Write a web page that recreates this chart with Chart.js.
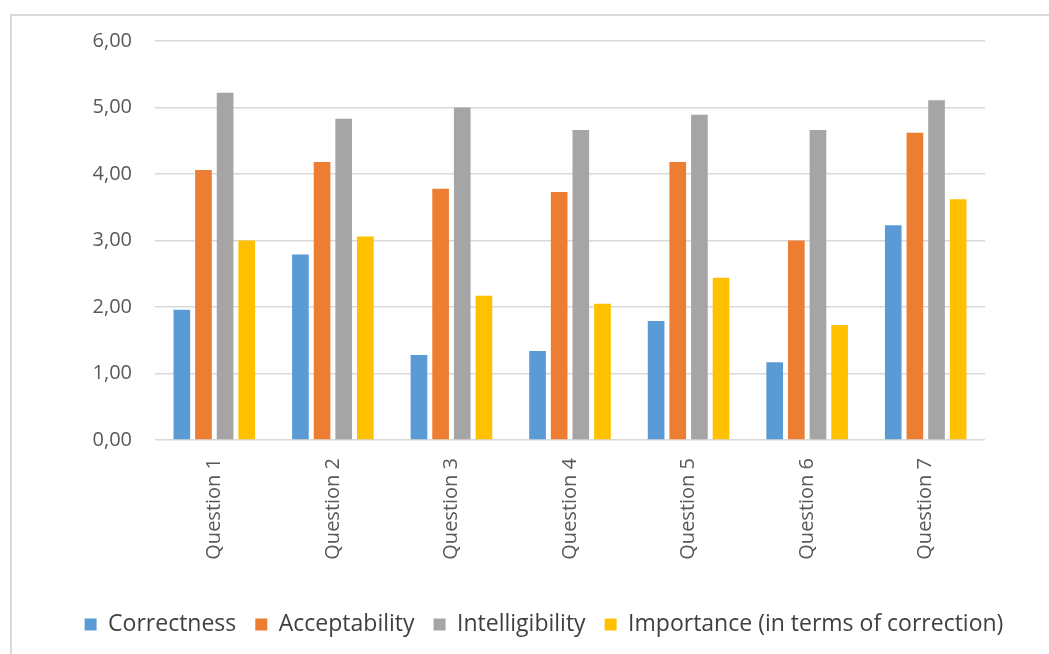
<!DOCTYPE html>
<html>
<head>
<meta charset="utf-8">
<script src="https://cdn.jsdelivr.net/npm/chart.js@4/dist/chart.umd.min.js"></script>
<style>
  html, body { margin: 0; padding: 0; background: #ffffff; }
  #wrap { width: 1049px; height: 654px; }
</style>
</head>
<body>
<div id="wrap"><canvas id="c" width="1049" height="654"></canvas></div>
<script>
const categories = ['Question 1', 'Question 2', 'Question 3', 'Question 4', 'Question 5', 'Question 6', 'Question 7'];
const correctness = [1.96, 2.79, 1.28, 1.34, 1.79, 1.17, 3.23];
const acceptability = [4.06, 4.18, 3.78, 3.73, 4.18, 3.00, 4.62];
const intelligibility = [5.22, 4.83, 5.00, 4.66, 4.89, 4.66, 5.11];
const importance = [3.00, 3.06, 2.17, 2.05, 2.44, 1.73, 3.62];
const yTicks = [0, 1, 2, 3, 4, 5, 6];

const FONT = '"Open Sans", "DejaVu Sans", sans-serif';

// light frame along the top and left edges
const framePlugin = {
  id: 'frame',
  beforeDraw(chart) {
    const ctx = chart.ctx;
    ctx.save();
    ctx.fillStyle = '#ffffff';
    ctx.fillRect(0, 0, chart.width, chart.height);
    ctx.strokeStyle = '#d9d9d9';
    ctx.lineWidth = 2;
    ctx.beginPath();
    ctx.moveTo(11, 654);
    ctx.lineTo(11, 15);
    ctx.lineTo(1049, 15);
    ctx.stroke();
    ctx.restore();
  }
};

const series = [
  { label: 'Correctness', data: correctness, color: '#5B9BD5' },
  { label: 'Acceptability', data: acceptability, color: '#ED7D31' },
  { label: 'Intelligibility', data: intelligibility, color: '#A5A5A5' },
  { label: 'Importance (in terms of correction)', data: importance, color: '#FFC000' }
];

new Chart(document.getElementById('c'), {
  type: 'bar',
  data: {
    labels: categories,
    datasets: series.map(s => ({
      label: s.label,
      data: s.data,
      backgroundColor: s.color,
      borderWidth: 0,
      categoryPercentage: 0.73,
      barPercentage: 0.77
    }))
  },
  options: {
    responsive: false,
    animation: false,
    devicePixelRatio: 1,
    layout: { padding: { top: 41, right: 0, bottom: 8, left: 39 } },
    plugins: {
      tooltip: { enabled: false },
      legend: {
        position: 'bottom',
        labels: {
          boxWidth: 12,
          boxHeight: 12,
          padding: 19,
          color: '#404040',
          font: { family: FONT, size: 23 }
        }
      }
    },
    scales: {
      x: {
        grid: { display: false, drawTicks: false },
        border: { display: false },
        ticks: {
          minRotation: 90,
          maxRotation: 90,
          padding: 18,
          color: '#595959',
          font: { family: FONT, size: 20 }
        },
        afterFit(scale) { scale.height = 154; }
      },
      y: {
        min: 0,
        max: 6,
        afterBuildTicks(scale) { scale.ticks = yTicks.map(v => ({ value: v })); },
        grid: { color: '#d9d9d9', lineWidth: 1.5, drawTicks: false },
        border: { display: false },
        ticks: {
          padding: 23,
          color: '#595959',
          font: { family: FONT, size: 20 },
          callback: v => Number(v).toFixed(2).replace('.', ',')
        },
        afterFit(scale) { scale.width = 116; }
      },
      // empty right-hand margin beside the plot
      yRight: {
        position: 'right',
        display: true,
        grid: { display: false, drawTicks: false },
        border: { display: false },
        ticks: { display: false },
        afterFit(scale) { scale.width = 64; }
      }
    }
  },
  plugins: [framePlugin]
});
</script>
</body>
</html>
